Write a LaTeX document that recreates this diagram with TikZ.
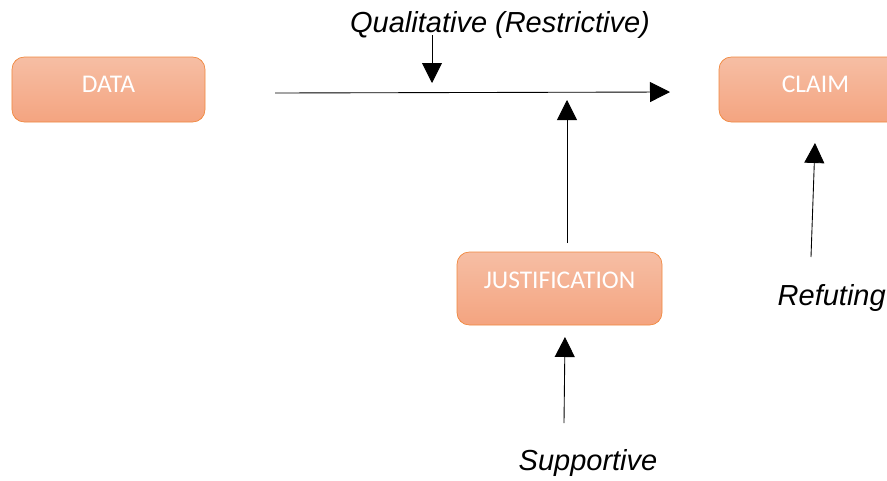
\documentclass[tikz,border=0pt]{standalone}
\usepackage{fontspec}
\setmainfont{Liberation Sans}
\newfontfamily\boxfont{Carlito}
\usepackage{xcolor}
\usetikzlibrary{arrows.meta, positioning}
\definecolor{boxtop}{HTML}{F6BEA4}
\definecolor{boxbottom}{HTML}{F4A480}
\definecolor{boxline}{HTML}{F0883F}

\begin{document}
\begin{tikzpicture}[
  every node/.style={font=\fontsize{16.5}{19}\selectfont\itshape},
  argbox/.style={rectangle, rounded corners=7pt, draw=boxline, top color=boxtop, bottom color=boxbottom, minimum width=3.86cm, minimum height=1.3cm, text=white, font=\boxfont\fontsize{14.5}{17}\selectfont},
  link/.style={-{Triangle[length=0.4cm, width=0.4cm]}, black, line width=0.5pt},
]
\useasboundingbox (0,0) rectangle (17.74,9.6);

\node[argbox] (data) at (2.17, 7.81) {\raisebox{0.2cm}{DATA}};
\node[argbox] (claim) at (16.31, 7.81) {\raisebox{0.2cm}{CLAIM}};
\node[argbox, minimum width=4.1cm, minimum height=1.46cm] (just) at (11.19, 3.83) {\raisebox{0.34cm}{JUSTIFICATION}};

% Main inference
\coordinate (infstart) at (5.5, 7.74);
\coordinate (infend) at (13.4, 7.76);
\draw[link] (infstart) -- (infend);

% Qualifier
\node (qual) at (10.0, 9.11) {Qualitative (Restrictive)};
\coordinate (qualtip) at (8.64, 7.94);
\draw[link] (8.64, 8.9) -- (qualtip);

% Justification into the inference
\coordinate (juststart) at (11.34, 4.74);
\coordinate (justtip) at (11.34, 7.6);
\draw[link] (juststart) -- (justtip);

% Supportive
\node (supp) at (11.76, 0.34) {Supportive};
\coordinate (suppstart) at (11.28, 1.14);
\coordinate (supptip) at (11.3, 2.86);
\draw[link] (suppstart) -- (supptip);

% Refuting
\node[anchor=west] (refu) at (15.43, 3.64) {Refuting};
\coordinate (refustart) at (16.22, 4.46);
\coordinate (refutip) at (16.3, 6.74);
\draw[link] (refustart) -- (refutip);

\end{tikzpicture}
\end{document}
